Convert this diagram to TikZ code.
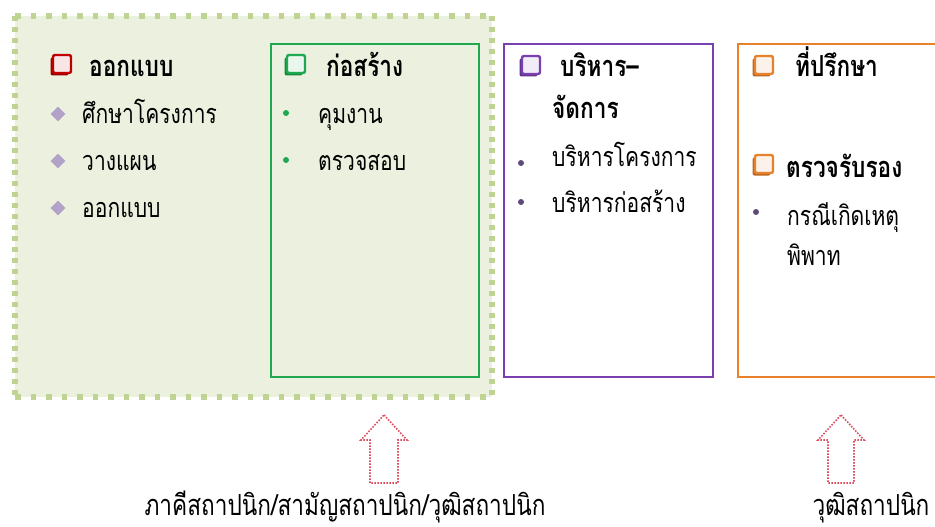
\documentclass[tikz,border=0pt]{standalone}
\usepackage{fontspec}
\setmainfont[Script=Thai,FakeStretch=0.78]{Loma}
\usetikzlibrary{shapes.geometric,shadows}
\definecolor{boxfill}{HTML}{EBF1DE}
\definecolor{dotgreen}{HTML}{BFD393}
\definecolor{cgreen}{HTML}{1FA84F}
\definecolor{cpurple}{HTML}{7A40B0}
\definecolor{corange}{HTML}{E8822A}
\definecolor{cred}{HTML}{C00000}
\definecolor{lav}{HTML}{B3A2C7}
\definecolor{bgrey}{HTML}{5F4B7A}
\definecolor{arrowred}{HTML}{DD4E5E}
\begin{document}
\begin{tikzpicture}[x=1pt,y=-1pt,
  frame/.style={line width=2.6pt},
  icon/.style={draw=#1, line width=2.4pt, fill=white!90!#1, minimum size=18pt,
    rounded corners=2pt, inner sep=0pt,
    drop shadow={shadow xshift=-2.5pt, shadow yshift=-2.5pt, fill=#1!80!black, opacity=1}},
  head/.style={anchor=base west, inner sep=0pt, font=\fontsize{29}{34}\selectfont\bfseries},
  item/.style={anchor=base west, inner sep=0pt, font=\fontsize{27}{32}\selectfont},
  bottomtext/.style={anchor=base, inner sep=0pt, font=\fontsize{29}{35}\selectfont},
  diam/.style={diamond, fill=lav, minimum width=15pt, minimum height=15pt, inner sep=0pt},
  dot/.style={circle, fill=#1, minimum size=6pt, inner sep=0pt},
  dotborder/.style={draw=dotgreen, line width=5.5pt, dash pattern=on 5.5pt off 10pt},
  dotborderv/.style={draw=dotgreen, line width=5.5pt, dash pattern=on 5pt off 6pt},
  uparrow/.style={draw=arrowred, line width=1.6pt, dash pattern=on 1.6pt off 1.4pt}
]
\useasboundingbox (0,0) rectangle (935,527);
% big dotted area
\fill[boxfill] (15,16) rectangle (492,397);
\draw[dotborder] (15,16) -- (492,16);
\draw[dotborder] (15,397) -- (492,397);
\draw[dotborderv] (15,16) -- (15,397);
\draw[dotborderv] (492,16) -- (492,397);
% frames
\node[draw=cgreen, frame, minimum width=208pt, minimum height=333pt, inner sep=0pt] (gbox) at (375,210.5) {};
\node[draw=cpurple, frame, fill=white, minimum width=209pt, minimum height=333pt, inner sep=0pt] (pbox) at (608.5,210.5) {};
\node[draw=corange, frame, fill=white, minimum width=210pt, minimum height=333pt, inner sep=0pt] (obox) at (843,210.5) {};
% column 1
\node[icon=cred] (i1) at (62,64) {};
\node[head] (h1) at (89,77) {ออกแบบ};
\node[diam] (d1) at (58,114) {};
\node[diam] (d2) at (58,161) {};
\node[diam] (d3) at (58,208) {};
\node[item] (t1) at (82,124) {ศึกษาโครงการ};
\node[item] (t2) at (82,170) {วางแผน};
\node[item] (t3) at (82,217) {ออกแบบ};
% column 2
\node[icon=cgreen] (i2) at (296,64) {};
\node[head] (h2) at (326,77) {ก่อสร้าง};
\node[dot=cgreen] (g1) at (286,113) {};
\node[dot=cgreen] (g2) at (286,160) {};
\node[item] (t4) at (318,124) {คุมงาน};
\node[item] (t5) at (318,170) {ตรวจสอบ};
% column 3
\node[icon=cpurple] (i3) at (531,65) {};
\node[head] (h3) at (560,77) {บริหาร–};
\node[head] (h3b) at (552,118) {จัดการ};
\node[dot=bgrey] (p1) at (521,163) {};
\node[dot=bgrey] (p2) at (521,202) {};
\node[item] (t6) at (552,166) {บริหารโครงการ};
\node[item] (t7) at (552,212) {บริหารก่อสร้าง};
% column 4
\node[icon=corange] (i4) at (764,65) {};
\node[head] (h4) at (795,77) {ที่ปรึกษา};
\node[icon=corange] (i5) at (764,164) {};
\node[head] (h5) at (786,177) {ตรวจรับรอง};
\node[dot=bgrey] (o1) at (756,212) {};
\node[item] (t8) at (787,225) {กรณีเกิดเหตุ};
\node[item] (t9) at (787,265) {พิพาท};
% arrows
\draw[uparrow, shift={(384,0)}] (0,415) -- (23,440) -- (14,440) -- (14,483) -- (-14,483) -- (-14,440) -- (-23,440) -- cycle;
\draw[uparrow, shift={(841,0)}] (0,415) -- (23,440) -- (13,440) -- (13,483) -- (-13,483) -- (-13,440) -- (-23,440) -- cycle;
% bottom labels
\node[bottomtext] (b1) at (345,515) {ภาคีสถาปนิก/สามัญสถาปนิก/วุฒิสถาปนิก};
\node[bottomtext] (b2) at (871,515) {วุฒิสถาปนิก};
\end{tikzpicture}
\end{document}
